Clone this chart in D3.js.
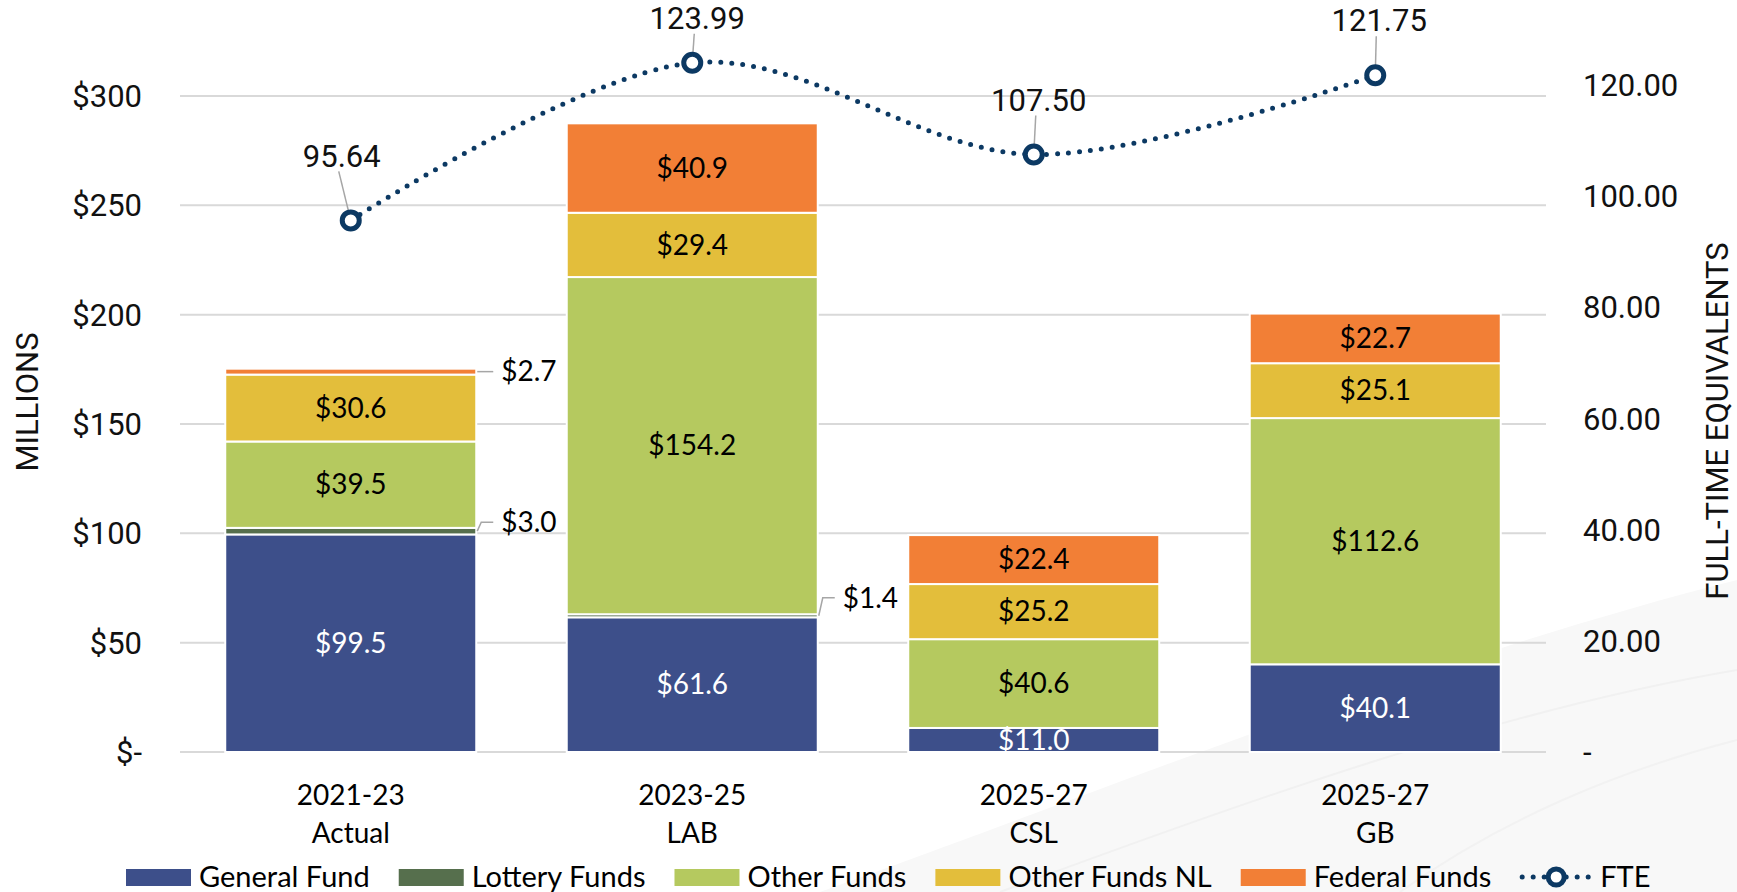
<!DOCTYPE html>
<html>
<head>
<meta charset="utf-8">
<title>Budget by fund and FTE</title>
<style>
body {
  margin: 0;
  background: #fff;
}
svg {
  display: block;
}
.tick-label, .fte-label, .axis-title {
  font-family: Roboto, "Noto Sans", sans-serif;
  font-size: 31px;
  fill: #111;
}
.cat-label, .bar-label, .legend-label {
  font-family: Lato, "Open Sans", sans-serif;
  font-size: 28px;
  fill: #000;
}
.legend-label {
  font-size: 29px;
}
</style>
</head>
<body>
<svg width="1737" height="892"></svg>
<script src="https://cdn.jsdelivr.net/npm/d3@7"></script>
<script>

// chart values
var periods  = ["2021-23", "2023-25", "2025-27", "2025-27"];
var versions = ["Actual", "LAB", "CSL", "GB"];

var generalFund  = [99.5, 61.6, 11.0, 40.1];
var lotteryFunds = [3.0, 1.4, 0, 0];
var otherFunds   = [39.5, 154.2, 40.6, 112.6];
var otherFundsNL = [30.6, 29.4, 25.2, 25.1];
var federalFunds = [2.7, 40.9, 22.4, 22.7];

var fte = [95.64, 123.99, 107.50, 121.75];

var leftTicks  = [0, 50, 100, 150, 200, 250, 300];
var rightTicks = [0, 20, 40, 60, 80, 100, 120];

var seriesNames = ["General Fund", "Lottery Funds", "Other Funds", "Other Funds NL", "Federal Funds"];
var colours = ["#3d4f8a", "#566f4d", "#b5c95f", "#e3be3b", "#f27f36"];
var fteColour = "#0c3963";

// where excel nudged some labels (pixels)
var fteLabelShift = [[-9, -65], [5, -45], [5, -55], [4, -55]];
var outsideRaise = {"0-1": -9, "0-4": 0, "1-1": -18};

var cats = periods.map(function(p, i) { return i; });
var table = cats.map(function(i) {
  return {
    idx: i,
    "General Fund": generalFund[i],
    "Lottery Funds": lotteryFunds[i],
    "Other Funds": otherFunds[i],
    "Other Funds NL": otherFundsNL[i],
    "Federal Funds": federalFunds[i]
  };
});

var svg = d3.select("svg");

// faint swoosh behind the chart
var bg = svg.append("g");
bg.append("path")
  .attr("d", "M820,892 C1080,800 1420,660 1737,580 L1737,892 Z")
  .attr("fill", "#f8f8f8");
bg.append("path")
  .attr("d", "M1000,892 C1250,800 1500,710 1737,670")
  .attr("fill", "none").attr("stroke", "#f1f1f1").attr("stroke-width", 2);
bg.append("path")
  .attr("d", "M1400,892 C1500,820 1620,770 1737,740")
  .attr("fill", "none").attr("stroke", "#f2f2f2").attr("stroke-width", 2);

var x = d3.scaleBand()
    .domain(cats)
    .range([180, 1546])
    .paddingInner(0.265)
    .paddingOuter(0.1325);

var y = d3.scaleLinear()
    .domain([0, 300])
    .range([752, 96]);

var y2 = d3.scaleLinear()
    .domain([0, 120])
    .range([752, 85]);

// gridlines
svg.append("g")
  .selectAll("line")
  .data(leftTicks)
  .enter().append("line")
    .attr("x1", 180).attr("x2", 1546)
    .attr("y1", function(d) { return y(d); })
    .attr("y2", function(d) { return y(d); })
    .attr("stroke", "#d9d9d9")
    .attr("stroke-width", 2);

// left axis labels
svg.append("g")
  .selectAll("text")
  .data(leftTicks)
  .enter().append("text")
    .attr("class", "tick-label")
    .attr("x", 142)
    .attr("y", function(d) { return y(d); })
    .attr("dy", "0.36em")
    .attr("text-anchor", "end")
    .text(function(d) { return d === 0 ? "$-" : "$" + d; });

// right axis labels
svg.append("g")
  .selectAll("text")
  .data(rightTicks)
  .enter().append("text")
    .attr("class", "tick-label")
    .attr("x", 1583)
    .attr("y", function(d) { return y2(d); })
    .attr("dy", "0.36em")
    .text(function(d) { return d === 0 ? "-" : d3.format(".2f")(d); });

svg.append("text")
  .attr("class", "axis-title")
  .attr("transform", "translate(38,402) rotate(-90)")
  .attr("text-anchor", "middle")
  .text("MILLIONS");

svg.append("text")
  .attr("class", "axis-title")
  .attr("transform", "translate(1728,421) rotate(-90)")
  .attr("text-anchor", "middle")
  .text("FULL-TIME EQUIVALENTS");

// stacked bars
var stack = d3.stack().keys(seriesNames);
var layers = stack(table);

svg.append("clipPath").attr("id", "plotclip")
  .append("rect").attr("x", 0).attr("y", 0).attr("width", 1737).attr("height", 752);

var layerG = svg.append("g")
  .selectAll("g")
  .data(layers)
  .enter().append("g")
    .attr("fill", function(d, i) { return colours[i]; });

layerG.selectAll("rect")
  .data(function(d) { return d.filter(function(s) { return s[1] - s[0] > 0; }); })
  .enter().append("rect")
    .attr("x", function(d) { return x(d.data.idx); })
    .attr("width", x.bandwidth())
    .attr("y", function(d) { return y(d[1]); })
    .attr("height", function(d) { return y(d[0]) - y(d[1]); })
    .attr("stroke", "#fff")
    .attr("stroke-width", 2);

// bar value labels
var labelG = svg.append("g").attr("clip-path", "url(#plotclip)");
layers.forEach(function(layer, si) {
  layer.forEach(function(s) {
    var v = s[1] - s[0];
    if (v <= 0) return;
    var ci = s.data.idx;
    var cy = (y(s[0]) + y(s[1])) / 2;
    var txt = "$" + d3.format(".1f")(v);
    if (v < 5) {
      var x0 = x(ci) + x.bandwidth();
      var ty = cy + (outsideRaise[ci + "-" + si] || 0);
      svg.append("path")
        .attr("d", "M" + (x0 + 1) + "," + cy + "L" + (x0 + 5) + "," + ty + "L" + (x0 + 17) + "," + ty)
        .attr("fill", "none")
        .attr("stroke", "#a6a6a6")
        .attr("stroke-width", 1.5);
      svg.append("text")
        .attr("class", "bar-label")
        .attr("x", x0 + 25)
        .attr("y", ty)
        .attr("dy", "0.35em")
        .text(txt);
    } else {
      labelG.append("text")
        .attr("class", "bar-label")
        .attr("x", x(ci) + x.bandwidth() / 2)
        .attr("y", cy)
        .attr("dy", "0.35em")
        .attr("text-anchor", "middle")
        .style("fill", si === 0 ? "#fff" : "#000")
        .text(txt);
    }
  });
});

// category labels
var catG = svg.append("g")
  .selectAll("text")
  .data(cats)
  .enter().append("text")
    .attr("class", "cat-label")
    .attr("text-anchor", "middle")
    .attr("x", function(d) { return x(d) + x.bandwidth() / 2; });
catG.append("tspan")
  .attr("x", function(d) { return x(d) + x.bandwidth() / 2; })
  .attr("y", 805)
  .text(function(d) { return periods[d]; });
catG.append("tspan")
  .attr("x", function(d) { return x(d) + x.bandwidth() / 2; })
  .attr("y", 843)
  .text(function(d) { return versions[d]; });

// FTE line
var fx = function(d, i) { return x(i) + x.bandwidth() / 2; };
var line = d3.line()
  .x(fx)
  .y(function(d) { return y2(d); })
  .curve(d3.curveCardinal.tension(0));

svg.append("path")
  .datum(fte)
  .attr("d", line)
  .attr("fill", "none")
  .attr("stroke", fteColour)
  .attr("stroke-width", 5)
  .attr("stroke-linecap", "round")
  .attr("stroke-dasharray", "0 11");

// leaders + labels
fte.forEach(function(v, i) {
  var px = fx(v, i), py = y2(v);
  var lx = px + fteLabelShift[i][0], ly = py + fteLabelShift[i][1];
  if (ly + 16 < py - 10) {
    svg.append("line")
      .attr("x1", lx - 3).attr("y1", ly + 16)
      .attr("x2", px).attr("y2", py)
      .attr("stroke", "#a6a6a6")
      .attr("stroke-width", 1.5);
  }
  svg.append("text")
    .attr("class", "fte-label")
    .attr("x", lx)
    .attr("y", ly)
    .attr("dy", "0.36em")
    .attr("text-anchor", "middle")
    .text(d3.format(".2f")(v));
});

svg.append("g")
  .selectAll("circle")
  .data(fte)
  .enter().append("circle")
    .attr("cx", fx)
    .attr("cy", function(d) { return y2(d); })
    .attr("r", 8.5)
    .attr("fill", "#fff")
    .attr("stroke", fteColour)
    .attr("stroke-width", 5);

// legend
var legend = svg.append("g");
var lx = 126, ly = 877;
seriesNames.forEach(function(name, i) {
  legend.append("rect")
    .attr("x", lx).attr("y", ly - 8)
    .attr("width", 65).attr("height", 17)
    .attr("fill", colours[i]);
  var t = legend.append("text")
    .attr("class", "legend-label")
    .attr("x", lx + 73)
    .attr("y", ly)
    .attr("dy", "0.35em")
    .text(name);
  lx += 73 + t.node().getComputedTextLength() + 29;
});
legend.append("line")
  .attr("x1", lx + 2).attr("x2", lx + 70)
  .attr("y1", ly).attr("y2", ly)
  .attr("stroke", fteColour)
  .attr("stroke-width", 5)
  .attr("stroke-linecap", "round")
  .attr("stroke-dasharray", "0 11");
legend.append("circle")
  .attr("cx", lx + 36).attr("cy", ly)
  .attr("r", 8)
  .attr("fill", "#fff")
  .attr("stroke", fteColour)
  .attr("stroke-width", 5);
legend.append("text")
  .attr("class", "legend-label")
  .attr("x", lx + 80)
  .attr("y", ly)
  .attr("dy", "0.35em")
  .text("FTE");

</script>
</body>
</html>
